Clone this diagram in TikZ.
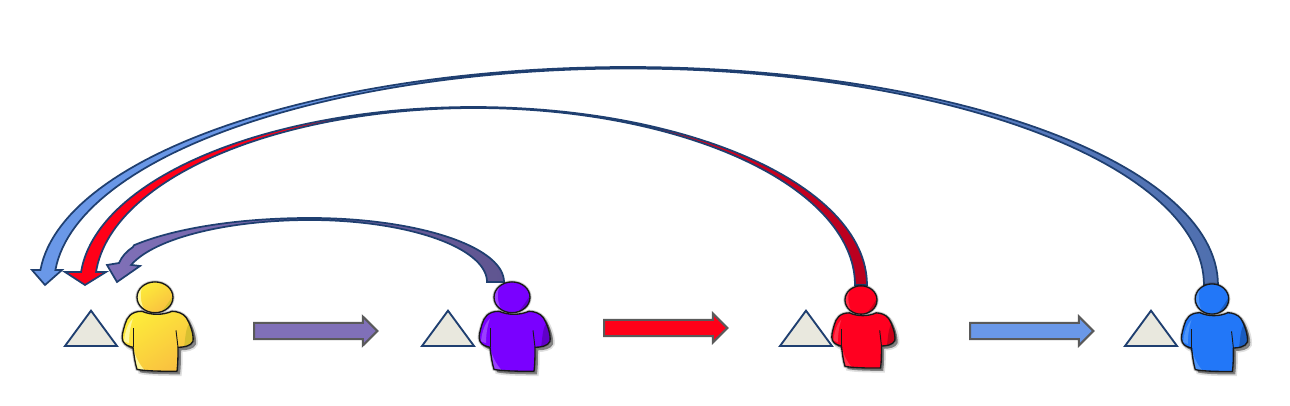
\documentclass[tikz,border=0pt]{standalone}
\usetikzlibrary{shapes.arrows}
\definecolor{navy}{HTML}{1F3F70}
\definecolor{tricol}{HTML}{E9E8DE}
\definecolor{gline}{HTML}{5A5A5A}
\definecolor{pur}{HTML}{8070B8}
\definecolor{purD}{HTML}{5F5590}
\definecolor{rd}{HTML}{FF0018}
\definecolor{rdD}{HTML}{B80020}
\definecolor{bl}{HTML}{6A98E8}
\definecolor{blD}{HTML}{4F6FAE}
\tikzset{
  triangleshape/.style={draw=navy,line width=1.4pt,fill=tricol,line join=miter},
  arcarrow/.style={draw=navy,line width=1.3pt,line join=miter},
  flowarrow/.style={shape=single arrow,draw=gline,line width=1.5pt,inner sep=0pt,inner ysep=5.25pt,
    single arrow head extend=4.8pt,single arrow tip angle=90,single arrow head indent=0pt,
    minimum height=92.5pt,anchor=tail,shape border rotate=0},
  personline/.style={draw=black!90,line width=1pt,line join=round},
  ell/.style={domain=#1,samples=120}
}
\def\bodypath{(-13,14) .. controls (-24,14) and (-28,20) .. (-30,27) .. controls (-32,34) and (-34,40) .. (-32,44) .. controls (-30,48) and (-26,49) .. (-22,50) .. controls (-21,58) and (-20,66) .. (-18,72) .. controls (-10,74) and (12,74) .. (22,74) .. controls (23,66) and (23,58) .. (23,50) .. controls (28,50) and (36,49) .. (38,44) .. controls (39,37) and (35,26) .. (31,20) .. controls (28,16) and (22,14) .. (17,14) .. controls (8,18) and (-4,18) .. (-13,14) -- cycle}
% name, x, y, xscale, yscale, main, light, dark, lower-right colour
\newcommand{\personfig}[9]{%
  \coordinate (#1) at (#2,#3);
  \begin{scope}[shift={(#1)},xscale=#4,yscale=#5]
    \begin{scope}[shift={(3,3)}]
      \fill[black,opacity=.12,draw=black,draw opacity=.12,line width=2.6pt] \bodypath;
      \fill[black,opacity=.35] \bodypath;
    \end{scope}
    \draw[black,opacity=.2,line width=2.4pt] (0,0) ellipse [x radius=18,y radius=15.4];
    \draw[black,opacity=.2,line width=2.4pt] \bodypath;
    \shade[top color=#6,bottom color=#9,shading angle=35,draw=none] \bodypath;
    \begin{scope}
      \clip \bodypath;
      \fill[#8] (40,20) .. controls (30,26) and (31,38) .. (29,50) -- (42,50) -- (42,20) -- cycle;
      \fill[#7] (-22,50) .. controls (-19,62) and (-14,70) .. (-7,76) -- (-22,78) -- cycle;
      \fill[#7] (-31,44) .. controls (-30,34) and (-27,26) .. (-22,21) .. controls (-25,30) and (-26,38) .. (-26,46) -- cycle;
    \end{scope}
    \draw[personline] \bodypath;
    \draw[personline,line width=.7pt] (-22,31) -- (-22,50);
    \draw[personline,line width=.7pt] (21,33) -- (23,50);
    \shade[top color=#6,bottom color=#9,shading angle=35,draw=none] (0,0) ellipse [x radius=18,y radius=15.4];
    \begin{scope}
      \clip (0,0) ellipse [x radius=18,y radius=15.4];
      \fill[#7] (-9,-16) .. controls (-17,-8) and (-15,6) .. (-9,16) -- (-20,16) -- (-20,-16) -- cycle;
      \fill[#8] (20,-6) .. controls (15,4) and (10,10) .. (5,16) -- (20,16) -- cycle;
    \end{scope}
    \draw[personline] (0,0) ellipse [x radius=18,y radius=15.4];
  \end{scope}%
}
\begin{document}
\begin{tikzpicture}[x=0.75pt,y=-0.75pt]
\useasboundingbox (0,0) rectangle (1290,406);

% triangles
\coordinate (t1) at (91,346);
\coordinate (t2) at (448,346);
\coordinate (t3) at (806,346);
\coordinate (t4) at (1151,346);
\foreach \t in {t1,t2,t3,t4}{
  \draw[triangleshape] ([xshift=-19.5pt]\t) -- ([yshift=26.5pt]\t) -- ([xshift=19.5pt]\t) -- cycle;
}

% long curved arrows (elliptical edges)
\coordinate (bTip) at (45,285);
\coordinate (rTip) at (85,285);
\coordinate (pTip) at (117,282);

\draw[arcarrow,left color=bl,right color=blD,middle color=bl!85!blD]
  plot[ell=176.05:0] ({628.5+589.5*cos(\x)},{285-218*sin(\x)})
  -- plot[ell=0:176.03] ({629+575*cos(\x)},{285-216.5*sin(\x)})
  -- (62,270) -- (bTip) -- (32,270) -- cycle;

\draw[arcarrow,left color=rd,right color=rdD,middle color=rd]
  plot[ell=175.8:0] ({473.5+393.5*cos(\x)},{285-178*sin(\x)})
  -- plot[ell=0:175.8] ({475+380*cos(\x)},{285-177*sin(\x)})
  -- (106,272) -- (rTip) -- (65,272) -- cycle;

\draw[arcarrow,left color=pur,right color=purD]
  (107,265) -- (119,263) .. controls (122,256) and (127,251) .. (133,247)
  -- plot[ell=145:90] ({310+215*cos(\x)},{282-64*sin(\x)})
  -- plot[ell=90:0] ({310+194*cos(\x)},{282-64*sin(\x)})
  -- plot[ell=0:90] ({310+177*cos(\x)},{282-62*sin(\x)})
  -- plot[ell=90:164] ({310+186*cos(\x)},{282-62*sin(\x)})
  -- (140,266) -- (pTip) -- cycle;

% straight arrows
\node[flowarrow,fill=pur] (a1) at (253,331) {};
\node[flowarrow,fill=rd] (a2) at (603,328) {};
\node[flowarrow,fill=bl] (a3) at (969,331) {};

% people
\definecolor{yM}{HTML}{FDEB3A}\definecolor{yR}{HTML}{F9C040}\definecolor{yL}{HTML}{FFF79A}\definecolor{yD}{HTML}{D8C030}
\definecolor{pM}{HTML}{7A00FF}\definecolor{pL}{HTML}{9A40FF}\definecolor{pD}{HTML}{6000C8}
\definecolor{rM}{HTML}{FF0020}\definecolor{rL}{HTML}{FF3048}\definecolor{rD}{HTML}{C80018}
\definecolor{uM}{HTML}{2277F8}\definecolor{uL}{HTML}{4C94FA}\definecolor{uD}{HTML}{1A5CC0}
\personfig{pY}{155}{297.3}{1}{1}{yM}{yL}{yD}{yR}
\personfig{pP}{512}{297.3}{1}{1}{pM}{pL}{pD}{pM}
\personfig{pR}{861}{300}{.89}{.92}{rM}{rL}{rD}{rM}
\personfig{pB}{1212}{299}{.93}{.98}{uM}{uL}{uD}{uM}
\end{tikzpicture}
\end{document}
